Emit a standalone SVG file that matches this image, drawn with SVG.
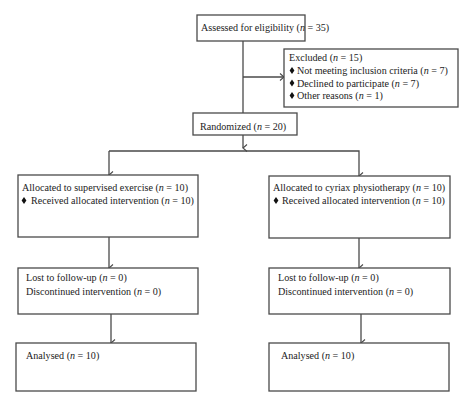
<svg xmlns="http://www.w3.org/2000/svg" width="474" height="407" viewBox="0 0 474 407">
<style>
.box{fill:#fff;stroke:#4a4a4a;stroke-width:1.3}
.ln{fill:none;stroke:#4a4a4a;stroke-width:1.3}
text{font-family:"Liberation Serif",serif;font-size:10.1px;fill:#222}
.i{font-style:italic}
</style>
<defs>
<marker id="arr" markerWidth="10" markerHeight="10" refX="5" refY="8" orient="auto-start-reverse" markerUnits="userSpaceOnUse" viewBox="0 0 10 10">
<polyline points="1.5,4 5,8 8.5,4" fill="none" stroke="#4a4a4a" stroke-width="1.1"/>
</marker>
<marker id="arrR" markerWidth="10" markerHeight="10" refX="8" refY="5" orient="0" markerUnits="userSpaceOnUse" viewBox="0 0 10 10">
<polyline points="4,1.5 8,5 4,8.5" fill="none" stroke="#4a4a4a" stroke-width="1.1"/>
</marker>
<path id="dia" d="M0,-3.6 L2.4,0 L0,3.6 L-2.4,0 Z" fill="#111"/>
</defs>
<rect width="474" height="407" fill="#fff"/>

<g id="connectors">
<line class="ln" x1="243" y1="41" x2="243" y2="113"/>
<line class="ln" x1="243" y1="77" x2="284" y2="77" marker-end="url(#arrR)"/>
<line class="ln" x1="243" y1="135" x2="243" y2="148" marker-end="url(#arr)"/>
<polyline class="ln" points="109,151 359,151 359,176" marker-end="url(#arr)"/>
<line class="ln" x1="109" y1="151" x2="109" y2="175" marker-end="url(#arr)"/>
<line class="ln" x1="109" y1="237" x2="109" y2="268" marker-end="url(#arr)"/>
<line class="ln" x1="359" y1="238" x2="359" y2="268" marker-end="url(#arr)"/>
<line class="ln" x1="111" y1="314" x2="111" y2="343" marker-end="url(#arr)"/>
<line class="ln" x1="361" y1="314" x2="361" y2="343" marker-end="url(#arr)"/>
</g>

<g id="assessed">
<rect class="box" x="197" y="15" width="108" height="26"/>
<text x="201" y="31">Assessed for eligibility (<tspan class="i">n</tspan> = 35)</text>
</g>

<g id="excluded">
<rect class="box" x="284" y="49" width="174" height="58"/>
<text x="289" y="61">Excluded (<tspan class="i">n</tspan> = 15)</text>
<use href="#dia" x="292" y="70.5"/>
<text x="297" y="74">Not meeting inclusion criteria (<tspan class="i">n</tspan> = 7)</text>
<use href="#dia" x="292" y="83"/>
<text x="297" y="86.5">Declined to participate (<tspan class="i">n</tspan> = 7)</text>
<use href="#dia" x="292" y="95.5"/>
<text x="297" y="99">Other reasons (<tspan class="i">n</tspan> = 1)</text>
</g>

<g id="randomized">
<rect class="box" x="193" y="113" width="104" height="22"/>
<text x="200" y="130">Randomized (<tspan class="i">n</tspan> = 20)</text>
</g>

<g id="alloc-left">
<rect class="box" x="18" y="175" width="180" height="62"/>
<text x="22" y="191">Allocated to supervised exercise (<tspan class="i">n</tspan> = 10)</text>
<use href="#dia" x="24" y="200.5"/>
<text x="31" y="204">Received allocated intervention (<tspan class="i">n</tspan> = 10)</text>
</g>

<g id="alloc-right">
<rect class="box" x="269" y="176" width="181" height="62"/>
<text x="273" y="191">Allocated to cyriax physiotherapy (<tspan class="i">n</tspan> = 10)</text>
<use href="#dia" x="276" y="200.5"/>
<text x="282" y="204">Received allocated intervention (<tspan class="i">n</tspan> = 10)</text>
</g>

<g id="lost-left">
<rect class="box" x="18" y="268" width="180" height="46"/>
<text x="26" y="281">Lost to follow-up (<tspan class="i">n</tspan> = 0)</text>
<text x="26" y="295">Discontinued intervention (<tspan class="i">n</tspan> = 0)</text>
</g>

<g id="lost-right">
<rect class="box" x="269" y="268" width="181" height="46"/>
<text x="278" y="281">Lost to follow-up (<tspan class="i">n</tspan> = 0)</text>
<text x="278" y="295">Discontinued intervention (<tspan class="i">n</tspan> = 0)</text>
</g>

<g id="analysed-left">
<rect class="box" x="16" y="343" width="180" height="48"/>
<text x="26" y="359">Analysed (<tspan class="i">n</tspan> = 10)</text>
</g>

<g id="analysed-right">
<rect class="box" x="269" y="343" width="180" height="48"/>
<text x="281" y="359">Analysed (<tspan class="i">n</tspan> = 10)</text>
</g>
</svg>
